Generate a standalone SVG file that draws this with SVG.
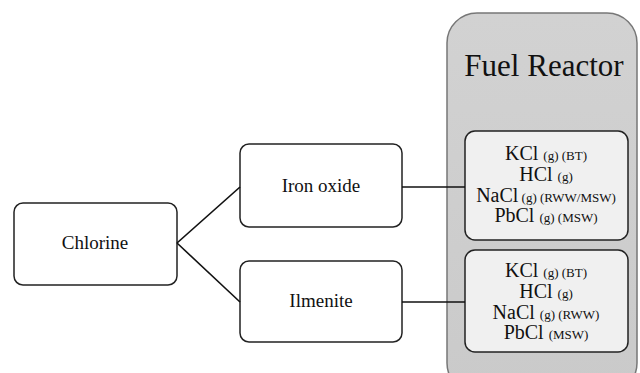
<svg xmlns="http://www.w3.org/2000/svg" width="640" height="373" viewBox="0 0 640 373">
<defs>
<linearGradient id="gr" x1="0" y1="0" x2="0" y2="1">
<stop offset="0" stop-color="#d2d2d2"/><stop offset="1" stop-color="#cacaca"/>
</linearGradient>
</defs>
<style>
.n{fill:#fff;stroke:#222;stroke-width:1.5}
.in{fill:#f0f0f0;stroke:#222;stroke-width:1.5}
.e{stroke:#111;stroke-width:1.6;fill:none}
</style>
<rect width="640" height="373" fill="#fff"/>
<g id="fuel-reactor">
<rect x="447" y="13" width="190" height="380" rx="30" fill="url(#gr)" stroke="#777" stroke-width="1.5"/>
<text x="544" y="76" font-size="31" font-family="'Liberation Serif', serif" text-anchor="middle" fill="#111">Fuel Reactor</text>
</g>
<g id="chlorine"><rect class="n" x="14" y="203" width="163" height="82" rx="9"/><text x="95" y="249" font-size="19" font-family="'Liberation Serif', serif" text-anchor="middle" fill="#111">Chlorine</text></g>
<g id="iron-oxide"><rect class="n" x="240" y="144" width="162" height="83" rx="9"/><text x="321" y="192" font-size="19" font-family="'Liberation Serif', serif" text-anchor="middle" fill="#111">Iron oxide</text></g>
<g id="ilmenite"><rect class="n" x="240" y="261" width="162" height="81" rx="9"/><text x="321" y="307" font-size="19" font-family="'Liberation Serif', serif" text-anchor="middle" fill="#111">Ilmenite</text></g>
<g id="products-iron">
<rect class="in" x="465" y="131" width="163" height="109" rx="10"/>
<text x="546" y="160" font-size="20" font-family="'Liberation Serif', serif" text-anchor="middle" fill="#111">KCl <tspan font-size="13">(g) (BT)</tspan></text>
<text x="546" y="181" font-size="20" font-family="'Liberation Serif', serif" text-anchor="middle" fill="#111">HCl <tspan font-size="13">(g)</tspan></text>
<text x="546" y="202" font-size="20" font-family="'Liberation Serif', serif" text-anchor="middle" fill="#111">NaCl<tspan font-size="13"> (g) (RWW/MSW)</tspan></text>
<text x="546" y="222" font-size="20" font-family="'Liberation Serif', serif" text-anchor="middle" fill="#111">PbCl <tspan font-size="13">(g) (MSW)</tspan></text>
</g>
<g id="products-ilmenite">
<rect class="in" x="465" y="250" width="163" height="102" rx="10"/>
<text x="546" y="277" font-size="20" font-family="'Liberation Serif', serif" text-anchor="middle" fill="#111">KCl <tspan font-size="13">(g)  (BT)</tspan></text>
<text x="546" y="298" font-size="20" font-family="'Liberation Serif', serif" text-anchor="middle" fill="#111">HCl <tspan font-size="13">(g)</tspan></text>
<text x="546" y="319" font-size="20" font-family="'Liberation Serif', serif" text-anchor="middle" fill="#111">NaCl <tspan font-size="13">(g) (RWW)</tspan></text>
<text x="546" y="339" font-size="20" font-family="'Liberation Serif', serif" text-anchor="middle" fill="#111">PbCl <tspan font-size="13">(MSW)</tspan></text>
</g>
<g id="connectors">
<path class="e" d="M177 243 L240 187"/>
<path class="e" d="M177 243 L240 302"/>
<path class="e" d="M402 187 L465 187"/>
<path class="e" d="M402 302 L465 302"/>
</g>
</svg>
